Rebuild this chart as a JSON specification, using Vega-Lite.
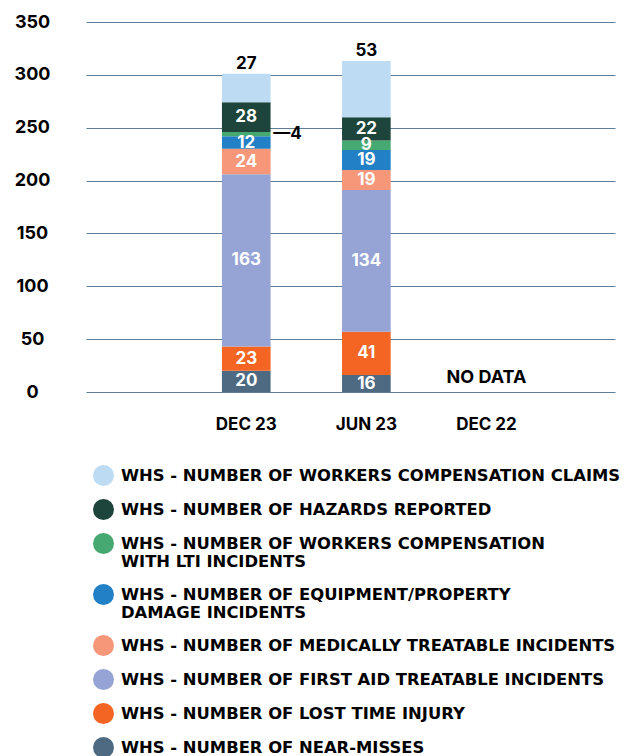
{
  "$schema": "https://vega.github.io/schema/vega-lite/v6.json",
  "width": 529,
  "height": 370,
  "padding": {"left": 14, "top": 13, "right": 5, "bottom": 0},
  "background": "white",
  "config": {
    "view": {"stroke": null},
    "font": "Inter",
    "text": {"font": "Inter", "fontWeight": "bold", "fontSize": 17}
  },
  "layer": [
    {
      "data": {
        "values": [
          {"period": "DEC 23", "category": "WHS - NUMBER OF NEAR-MISSES", "value": 20},
          {"period": "DEC 23", "category": "WHS - NUMBER OF LOST TIME INJURY", "value": 23},
          {"period": "DEC 23", "category": "WHS - NUMBER OF FIRST AID TREATABLE INCIDENTS", "value": 163},
          {"period": "DEC 23", "category": "WHS - NUMBER OF MEDICALLY TREATABLE INCIDENTS", "value": 24},
          {"period": "DEC 23", "category": "WHS - NUMBER OF EQUIPMENT/PROPERTY DAMAGE INCIDENTS", "value": 12},
          {"period": "DEC 23", "category": "WHS - NUMBER OF WORKERS COMPENSATION WITH LTI INCIDENTS", "value": 4},
          {"period": "DEC 23", "category": "WHS - NUMBER OF HAZARDS REPORTED", "value": 28},
          {"period": "DEC 23", "category": "WHS - NUMBER OF WORKERS COMPENSATION CLAIMS", "value": 27},
          {"period": "JUN 23", "category": "WHS - NUMBER OF NEAR-MISSES", "value": 16},
          {"period": "JUN 23", "category": "WHS - NUMBER OF LOST TIME INJURY", "value": 41},
          {"period": "JUN 23", "category": "WHS - NUMBER OF FIRST AID TREATABLE INCIDENTS", "value": 134},
          {"period": "JUN 23", "category": "WHS - NUMBER OF MEDICALLY TREATABLE INCIDENTS", "value": 19},
          {"period": "JUN 23", "category": "WHS - NUMBER OF EQUIPMENT/PROPERTY DAMAGE INCIDENTS", "value": 19},
          {"period": "JUN 23", "category": "WHS - NUMBER OF WORKERS COMPENSATION WITH LTI INCIDENTS", "value": 9},
          {"period": "JUN 23", "category": "WHS - NUMBER OF HAZARDS REPORTED", "value": 22},
          {"period": "JUN 23", "category": "WHS - NUMBER OF WORKERS COMPENSATION CLAIMS", "value": 53}
        ]
      },
      "transform": [
        {"calculate": "indexof(['WHS - NUMBER OF WORKERS COMPENSATION CLAIMS','WHS - NUMBER OF HAZARDS REPORTED','WHS - NUMBER OF WORKERS COMPENSATION WITH LTI INCIDENTS','WHS - NUMBER OF EQUIPMENT/PROPERTY DAMAGE INCIDENTS','WHS - NUMBER OF MEDICALLY TREATABLE INCIDENTS','WHS - NUMBER OF FIRST AID TREATABLE INCIDENTS','WHS - NUMBER OF LOST TIME INJURY','WHS - NUMBER OF NEAR-MISSES'], datum.category)", "as": "ord"},
        {"stack": "value", "groupby": ["period"], "sort": [{"field": "ord", "order": "descending"}], "as": ["v0", "v1"]},
        {"calculate": "(datum.v0 + datum.v1) / 2", "as": "mid"}
      ],
      "layer": [
        {
          "mark": {"type": "bar"},
          "encoding": {
            "x": {
              "field": "period", "type": "nominal",
              "scale": {"domain": ["DEC 23", "JUN 23", "DEC 22"], "paddingInner": 0.595, "paddingOuter": 1, "align": 0.566},
              "axis": {"title": null, "labelAngle": 0, "ticks": false, "domain": false, "labelFont": "Inter", "labelFontWeight": "bold", "labelFontSize": 17, "labelColor": "#000000", "labelPadding": 24}
            },
            "y": {
              "field": "v1", "type": "quantitative",
              "scale": {"domain": [0, 350], "nice": false},
              "axis": {"title": null, "values": [0, 50, 100, 150, 200, 250, 300, 350], "ticks": false, "domain": false, "grid": true, "gridColor": "#5f7d96", "gridWidth": 1, "labelFont": "Inter", "labelFontWeight": "bold", "labelFontSize": 18, "labelColor": "#000000", "labelAlign": "center", "labelPadding": 54}
            },
            "y2": {"field": "v0"},
            "color": {
              "field": "category", "type": "nominal",
              "scale": {
                "domain": ["WHS - NUMBER OF WORKERS COMPENSATION CLAIMS","WHS - NUMBER OF HAZARDS REPORTED","WHS - NUMBER OF WORKERS COMPENSATION WITH LTI INCIDENTS","WHS - NUMBER OF EQUIPMENT/PROPERTY DAMAGE INCIDENTS","WHS - NUMBER OF MEDICALLY TREATABLE INCIDENTS","WHS - NUMBER OF FIRST AID TREATABLE INCIDENTS","WHS - NUMBER OF LOST TIME INJURY","WHS - NUMBER OF NEAR-MISSES"],
                "range": ["#bddcf3", "#1d453b", "#47a972", "#2280c7", "#f7977a", "#95a4d4", "#f46523", "#4e6a82"]
              },
              "legend": {
                "title": null,
                "orient": "bottom",
                "direction": "vertical",
                "columns": 1,
                "offset": 26,
                "padding": 7,
                "symbolType": "circle",
                "symbolSize": 441,
                "symbolStrokeWidth": 0,
                "labelFont": "DejaVu Sans",
                "labelFontWeight": "bold",
                "labelFontSize": 16.4,
                "labelColor": "#000000",
                "labelLimit": 700,
                "labelOffset": 7,
                "rowPadding": 13,
                "labelExpr": "datum.label == 'WHS - NUMBER OF WORKERS COMPENSATION WITH LTI INCIDENTS' ? ['WHS - NUMBER OF WORKERS COMPENSATION', 'WITH LTI INCIDENTS'] : datum.label == 'WHS - NUMBER OF EQUIPMENT/PROPERTY DAMAGE INCIDENTS' ? ['WHS - NUMBER OF EQUIPMENT/PROPERTY', 'DAMAGE INCIDENTS'] : datum.label"
              }
            }
          }
        },
        {
          "transform": [{"filter": "datum.ord > 0 && datum.value >= 8"}],
          "mark": {"type": "text", "color": "#ffffff", "baseline": "middle", "align": "center"},
          "encoding": {
            "x": {"field": "period", "type": "nominal"},
            "y": {"field": "mid", "type": "quantitative"},
            "text": {"field": "value", "type": "quantitative"}
          }
        },
        {
          "transform": [{"filter": "datum.ord == 0"}],
          "mark": {"type": "text", "color": "#000000", "baseline": "bottom", "align": "center", "dy": -1},
          "encoding": {
            "x": {"field": "period", "type": "nominal"},
            "y": {"field": "v1", "type": "quantitative"},
            "text": {"field": "value", "type": "quantitative"}
          }
        },
        {
          "transform": [{"filter": "datum.ord > 0 && datum.value < 8"}, {"calculate": "'—' + datum.value", "as": "lbl"}],
          "mark": {"type": "text", "color": "#000000", "baseline": "middle", "align": "left", "dx": 27},
          "encoding": {
            "x": {"field": "period", "type": "nominal"},
            "y": {"field": "mid", "type": "quantitative"},
            "text": {"field": "lbl", "type": "nominal"}
          }
        }
      ]
    },
    {
      "data": {"values": [{"period": "DEC 22", "note": "NO DATA"}]},
      "mark": {"type": "text", "color": "#000000", "baseline": "bottom", "align": "center", "dy": -5, "fontSize": 18},
      "encoding": {
        "x": {"field": "period", "type": "nominal"},
        "y": {"datum": 0, "type": "quantitative"},
        "text": {"field": "note", "type": "nominal"}
      }
    }
  ]
}
